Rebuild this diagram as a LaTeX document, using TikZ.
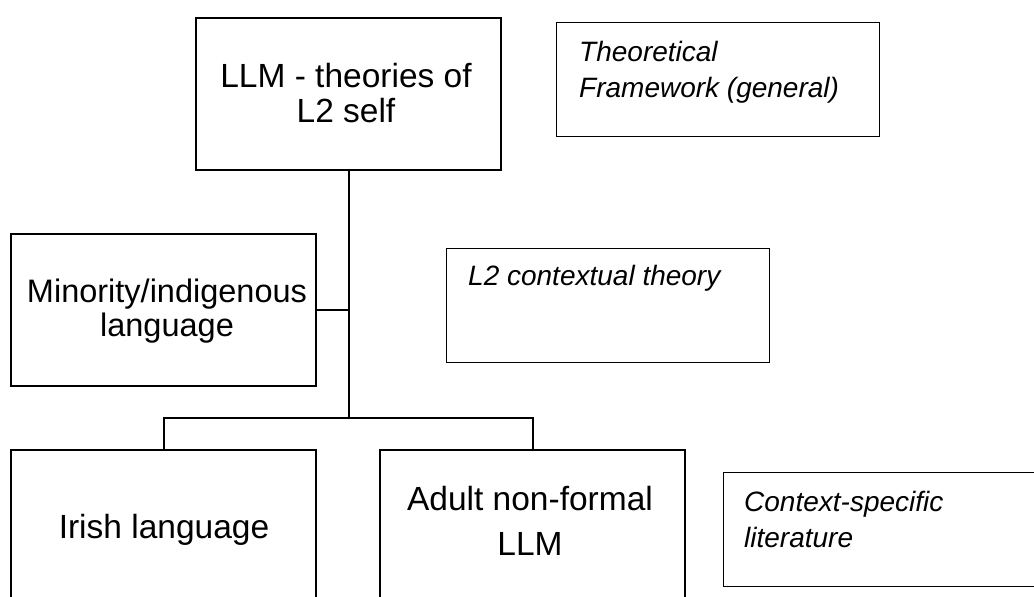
\documentclass[tikz,border=0pt]{standalone}
\usepackage{fontspec}
\setmainfont{Liberation Sans}
\begin{document}
\begin{tikzpicture}[x=1pt,y=-1pt,
  mainbox/.style={draw, line width=2pt, inner sep=0pt, minimum width=305pt, minimum height=152pt},
  notebox/.style={draw, line width=1pt, inner sep=0pt, minimum width=323pt, minimum height=114pt},
  maintext/.style={align=center, inner sep=0pt, font=\fontsize{33.5}{35}\selectfont},
  notetext/.style={align=left, inner sep=0pt, font=\fontsize{28}{36}\selectfont\itshape},
  link/.style={line width=2pt}]
\useasboundingbox (0,0) rectangle (1034,597);

% boxes of the hierarchy
\node[mainbox] (top)   at (348.5,94)  {};
\node[mainbox] (mino)  at (163.5,310) {};
\node[mainbox] (irish) at (163.5,526) {};
\node[mainbox] (adult) at (532.5,526) {};

% side notes
\node[notebox] (theo) at (717.5,79.5) {};
\node[notebox] (ctx)  at (607.5,305)  {};
\node[notebox] (spec) at (884.5,529)  {};

% box texts
\node[maintext, anchor=north] (toptxt) at (346,63) {LLM - theories of\\L2 self};
\node[maintext, anchor=north, font=\fontsize{32.5}{34}\selectfont] (minotxt) at (167,278.5) {Minority/indigenous\\language};
\node[maintext, anchor=base] (irishtxt) at (164,538) {Irish language};
\node[maintext, anchor=north, font=\fontsize{33.5}{45}\selectfont] (adulttxt) at (530,486) {Adult non-formal\\LLM};

\node[notetext, anchor=north west] (theotxt) at (579,41) {Theoretical\\Framework (general)};
\node[notetext, anchor=base west] (ctxtxt) at (468,285) {L2 contextual theory};
\node[notetext, anchor=north west] (spectxt) at (744,491) {Context-specific\\literature};

% connectors
\coordinate (split) at (348.5,418);
\draw[link] (top.south) -- (split);
\draw[link] (mino.east) -- (mino.east -| top.south);
\draw[link] (irish.north) |- (split) -| (adult.north);
\end{tikzpicture}
\end{document}
